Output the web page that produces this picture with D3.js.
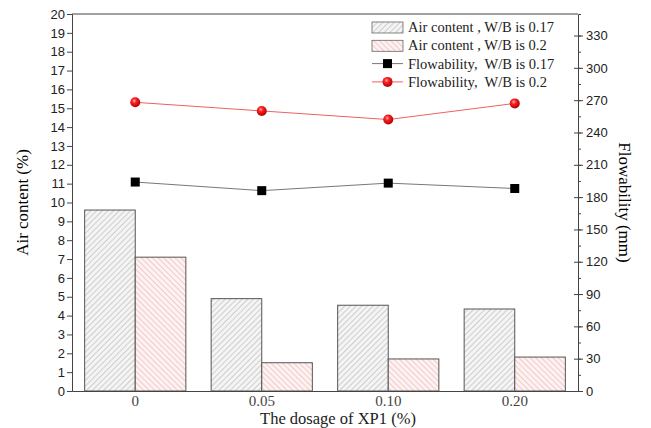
<!DOCTYPE html>
<html>
<head>
<meta charset="utf-8">
<script src="https://cdn.jsdelivr.net/npm/d3@7"></script>
<style>
  body { margin: 0; background: #fff; }
  svg { display: block; }
</style>
</head>
<body>
<div id="chart"></div>
<script>
// data
const dosages = ["0", "0.05", "0.10", "0.20"];
const airContent017 = [9.6, 4.9, 4.55, 4.35];
const airContent02 = [7.1, 1.5, 1.7, 1.8];
const flow017 = [194, 186, 193, 188];
const flow02 = [268, 260, 252, 267];
const legendLabels = [
  "Air content , W/B is 0.17",
  "Air content , W/B is 0.2",
  "Flowability,  W/B is 0.17",
  "Flowability,  W/B is 0.2",
];

const margin = { top: 14, right: 73, bottom: 37, left: 72 },
  width = 651 - margin.left - margin.right,
  height = 428 - margin.top - margin.bottom;

const root = d3.select("#chart").append("svg").attr("width", 651).attr("height", 428);

// hatch patterns + ball gradient
const defs = root.append("defs");
const grey = defs.append("pattern").attr("id", "hatchGrey")
  .attr("patternUnits", "userSpaceOnUse").attr("width", 4).attr("height", 4)
  .attr("patternTransform", "rotate(45)");
grey.append("rect").attr("width", 4).attr("height", 4).attr("fill", "#f4f4f4");
grey.append("line").attr("x1", 0).attr("y1", 0).attr("x2", 0).attr("y2", 4)
  .attr("stroke", "#a8a8a8").attr("stroke-width", 1);

const pink = defs.append("pattern").attr("id", "hatchPink")
  .attr("patternUnits", "userSpaceOnUse").attr("width", 4).attr("height", 4)
  .attr("patternTransform", "rotate(-45)");
pink.append("rect").attr("width", 4).attr("height", 4).attr("fill", "#fdf2f2");
pink.append("line").attr("x1", 0).attr("y1", 0).attr("x2", 0).attr("y2", 4)
  .attr("stroke", "#eaa0a0").attr("stroke-width", 1);

const ball = defs.append("radialGradient").attr("id", "ball")
  .attr("cx", "40%").attr("cy", "35%").attr("r", "65%");
ball.append("stop").attr("offset", "0%").attr("stop-color", "#ffb0b0");
ball.append("stop").attr("offset", "35%").attr("stop-color", "#ff2020");
ball.append("stop").attr("offset", "100%").attr("stop-color", "#b00000");

const svg = root.append("g").attr("transform", "translate(" + margin.left + "," + margin.top + ")");

// scales
const x = d3.scaleBand().domain(dosages).range([0, width]);
const xSub = d3.scaleBand().domain(["a", "b"]).range([x.bandwidth() * 0.1, x.bandwidth() * 0.9]);
const yLeft = d3.scaleLinear().domain([0, 20]).range([height, 0]);
const yRight = d3.scaleLinear().domain([0, 350]).range([height, 0]);

// bars
const barGroups = svg.selectAll(".grp").data(dosages).enter().append("g")
  .attr("transform", (d) => "translate(" + x(d) + ",0)");
barGroups.append("rect")
  .attr("x", xSub("a")).attr("width", xSub.bandwidth())
  .attr("y", (d, i) => yLeft(airContent017[i]))
  .attr("height", (d, i) => height - yLeft(airContent017[i]))
  .attr("fill", "url(#hatchGrey)").attr("stroke", "#555").attr("stroke-width", 1);
barGroups.append("rect")
  .attr("x", xSub("b")).attr("width", xSub.bandwidth())
  .attr("y", (d, i) => yLeft(airContent02[i]))
  .attr("height", (d, i) => height - yLeft(airContent02[i]))
  .attr("fill", "url(#hatchPink)").attr("stroke", "#555").attr("stroke-width", 1);

// lines
const cx = (d) => x(d) + x.bandwidth() / 2;
const line = (vals) => d3.line().x((d) => cx(d)).y((d, i) => yRight(vals[i]))(dosages);

svg.append("path").attr("d", line(flow017)).attr("fill", "none")
  .attr("stroke", "#777").attr("stroke-width", 1);
svg.append("path").attr("d", line(flow02)).attr("fill", "none")
  .attr("stroke", "#f06060").attr("stroke-width", 1);

svg.selectAll(".sq").data(dosages).enter().append("rect")
  .attr("x", (d) => cx(d) - 4.5).attr("y", (d, i) => yRight(flow017[i]) - 4.5)
  .attr("width", 9).attr("height", 9).attr("fill", "#000");
svg.selectAll(".dot").data(dosages).enter().append("circle")
  .attr("cx", (d) => cx(d)).attr("cy", (d, i) => yRight(flow02[i]))
  .attr("r", 5).attr("fill", "url(#ball)");

// axes
const sans = "'Liberation Sans', Arial, sans-serif";
const serif = "'Liberation Serif', 'Times New Roman', serif";
const tickFont = (g) => g.selectAll("text")
  .style("font-family", sans).style("font-size", "13px").attr("fill", "#222");

svg.append("g")
  .call(d3.axisLeft(yLeft).ticks(20).tickSize(5).tickPadding(2))
  .call(tickFont)
  .call((g) => g.selectAll("line,path").attr("stroke", "#444"));

const rightAxis = svg.append("g").attr("transform", "translate(" + width + ",0)");
rightAxis.call(d3.axisRight(yRight).tickValues(d3.range(0, 331, 15)).tickSize(3).tickFormat(""))
  .call((g) => g.selectAll("line,path").attr("stroke", "#444"));
rightAxis.append("g")
  .call(d3.axisRight(yRight).tickValues(d3.range(0, 331, 30)).tickSize(5).tickPadding(3))
  .call(tickFont)
  .call((g) => g.select(".domain").remove())
  .call((g) => g.selectAll("line").attr("stroke", "#444").attr("x1", -4));

svg.append("g").attr("transform", "translate(0," + height + ")")
  .call(d3.axisBottom(x).tickSize(0).tickPadding(4))
  .call((g) => g.selectAll("text").style("font-family", serif).style("font-size", "15px").attr("fill", "#444"))
  .call((g) => g.selectAll("path").attr("stroke", "#444"));

// top frame
svg.append("line").attr("x1", 0).attr("x2", width).attr("y1", 0).attr("y2", 0)
  .attr("stroke", "#444");

// axis titles
root.append("text").attr("transform", "translate(28," + (margin.top + height / 2) + ") rotate(-90)")
  .attr("text-anchor", "middle").style("font-family", serif).style("font-size", "17px")
  .text("Air content (%)");
root.append("text").attr("transform", "translate(619," + (margin.top + height / 2) + ") rotate(90)")
  .attr("text-anchor", "middle").style("font-family", serif).style("font-size", "17px")
  .text("Flowability (mm)");
root.append("text").attr("x", 338).attr("y", 424)
  .attr("text-anchor", "middle").style("font-family", serif).style("font-size", "16.5px")
  .attr("fill", "#222").text("The dosage of XP1 (%)");

// legend
const legend = root.append("g").attr("transform", "translate(372,27)");
const rowH = 18.3;
legendLabels.forEach((lab, i) => {
  const row = legend.append("g").attr("transform", "translate(0," + i * rowH + ")");
  if (i < 2) {
    row.append("rect").attr("x", 0).attr("y", -5).attr("width", 31).attr("height", 11)
      .attr("fill", i === 0 ? "url(#hatchGrey)" : "url(#hatchPink)")
      .attr("stroke", "#666").attr("stroke-width", 0.8);
  } else {
    row.append("line").attr("x1", 0).attr("x2", 31).attr("y1", 0).attr("y2", 0)
      .attr("stroke", i === 2 ? "#777" : "#f06060");
    if (i === 2) {
      row.append("rect").attr("x", 11).attr("y", -4.5).attr("width", 9).attr("height", 9).attr("fill", "#000");
    } else {
      row.append("circle").attr("cx", 15.5).attr("cy", 0).attr("r", 5).attr("fill", "url(#ball)");
    }
  }
  row.append("text").attr("x", 36).attr("y", 5)
    .style("font-family", serif).style("font-size", "14.5px").style("white-space", "pre")
    .attr("fill", "#222").text(lab);
});
</script>
</body>
</html>
